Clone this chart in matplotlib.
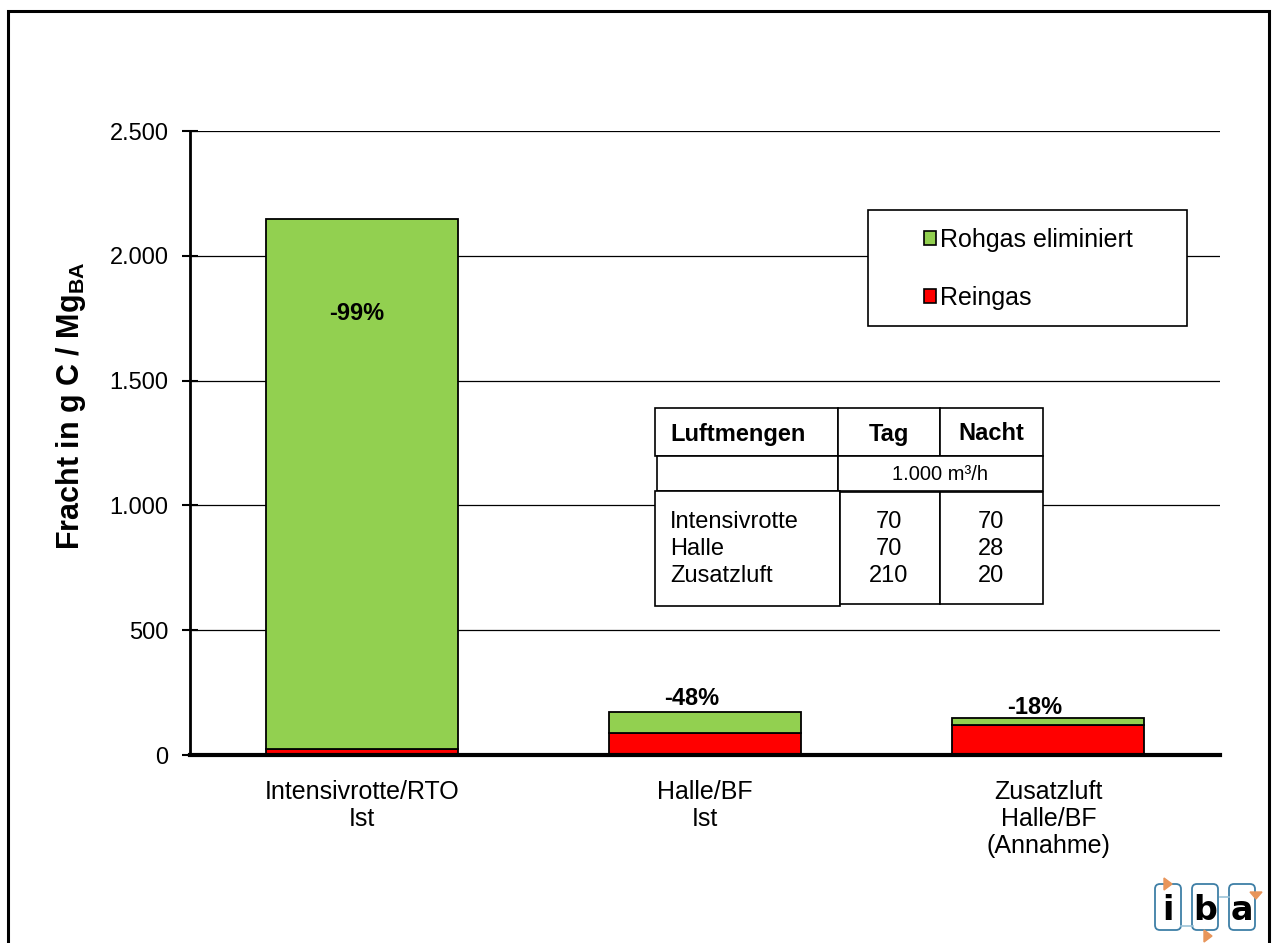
import matplotlib
matplotlib.use("Agg")
import matplotlib.pyplot as plt
from matplotlib.patches import Patch, Rectangle, FancyBboxPatch, Polygon
from matplotlib.ticker import FuncFormatter

plt.rcParams['font.family'] = ['Liberation Sans', 'DejaVu Sans']
plt.rcParams['mathtext.fontset'] = 'custom'
plt.rcParams['mathtext.rm'] = 'Liberation Sans'
plt.rcParams['mathtext.bf'] = 'Liberation Sans:bold'

# ---------------- data ----------------
categories = ["Intensivrotte/RTO\nIst", "Halle/BF\nIst", "Zusatzluft\nHalle/BF\n(Annahme)"]
reingas = [25, 89, 122]
rohgas_total = [2148, 172, 148]
rohgas_eliminiert = [t - r for t, r in zip(rohgas_total, reingas)]
pct_labels = ["-99%", "-48%", "-18%"]
pct_label_y = [1770, 225, 190]
yticks = [0, 500, 1000, 1500, 2000, 2500]

table_header = ["Luftmengen", "Tag", "Nacht"]
table_unit = "1.000 m³/h"
table_rows = ["Intensivrotte", "Halle", "Zusatzluft"]
table_tag = [70, 70, 210]
table_nacht = [70, 28, 20]

GREEN = "#92D050"
RED = "#FF0000"

W, H = 1272, 943
fig = plt.figure(figsize=(W / 100, H / 100), dpi=100)
ax = fig.add_axes([190 / W, 1 - 755 / H, (1220 - 190) / W, (755 - 131) / H])

x = list(range(len(categories)))
bw = 0.56
ax.bar(x, reingas, width=bw, color=RED, edgecolor="black", linewidth=1.3, zorder=3, label="Reingas")
ax.bar(x, rohgas_eliminiert, bottom=reingas, width=bw, color=GREEN, edgecolor="black",
       linewidth=1.3, zorder=3, label="Rohgas eliminiert")

label_dx = [-0.015, -0.04, -0.04]
for xi, lab, yy, dx in zip(x, pct_labels, pct_label_y, label_dx):
    ax.text(xi + dx, yy, lab, ha="center", va="center", fontsize=17,
            fontweight="bold", zorder=5)

ax.set_xlim(-0.5, 2.5)
ax.set_ylim(0, 2500)
ax.set_yticks(yticks)
ax.yaxis.set_major_formatter(FuncFormatter(lambda v, p: f"{int(v):,}".replace(",", ".")))
ax.set_xticks(x)
ax.set_xticklabels(categories, fontsize=18, linespacing=1.15)
ax.tick_params(axis="x", length=0, pad=18)
ax.tick_params(axis="y", direction="inout", length=11, width=1.5, labelsize=17, pad=10)
ax.grid(axis="y", color="black", linewidth=0.9, zorder=0)
ax.set_axisbelow(True)
for s in ["top", "right"]:
    ax.spines[s].set_visible(False)
ax.spines["left"].set_linewidth(2)
ax.spines["bottom"].set_linewidth(3)
ax.spines["left"].set_zorder(4)
ax.spines["bottom"].set_zorder(4)
ax.set_ylabel(r"Fracht in g C / Mg$_\mathbf{BA}$", fontsize=22, fontweight="bold")
ax.yaxis.set_label_coords(-0.0995, 0.56)

# ---------------- overlay (pixel coordinates) ----------------
ov = fig.add_axes([0, 0, 1, 1], zorder=10)
ov.set_xlim(0, W)
ov.set_ylim(H, 0)
ov.axis("off")

# outer frame
ov.plot([8, 8, 1269, 1269], [H + 5, 11, 11, H + 5], color="black", linewidth=2.2,
        solid_joinstyle="miter")

# legend box
ov.add_patch(Rectangle((868, 210), 319, 116, facecolor="white", edgecolor="black", linewidth=1.2))
handles = [Patch(facecolor=GREEN, edgecolor="black", linewidth=1.2, label="Rohgas eliminiert"),
           Patch(facecolor=RED, edgecolor="black", linewidth=1.2, label="Reingas")]
leg = ov.legend(handles=handles, loc="upper left", bbox_to_anchor=(924 / W, 1 - 228 / H),
                bbox_transform=fig.transFigure, frameon=False, fontsize=18,
                handlelength=0.5, handleheight=0.5, handletextpad=0.15, labelspacing=1.35,
                borderpad=0, borderaxespad=0)

# table
def cell(x0, y0, x1, y1):
    ov.add_patch(Rectangle((x0, y0), x1 - x0, y1 - y0, facecolor="white", edgecolor="black",
                           linewidth=1.2))

cell(655, 408, 838, 456)
cell(838, 408, 940, 456)
cell(940, 408, 1043, 456)
cell(657, 456, 838, 491)
cell(838, 456, 1043, 491)
cell(655, 491, 840, 606)
cell(840, 492, 940, 604)
cell(940, 492, 1043, 604)

ov.text(670, 434, table_header[0], ha="left", va="center", fontsize=17, fontweight="bold")
ov.text(889, 434, table_header[1], ha="center", va="center", fontsize=17, fontweight="bold")
ov.text(991, 434, table_header[2], ha="center", va="center", fontsize=17, fontweight="bold")
ov.text(940, 474, table_unit, ha="center", va="center", fontsize=14.5)
for i, (name, t, n) in enumerate(zip(table_rows, table_tag, table_nacht)):
    yy = 522 + 27 * i
    ov.text(670, yy, name, ha="left", va="center", fontsize=17)
    ov.text(889, yy, str(t), ha="center", va="center", fontsize=17)
    ov.text(991, yy, str(n), ha="center", va="center", fontsize=17)

# iba logo
LB = "#3E7FA6"
OR = "#E8955A"
ov.plot([1181, 1193], [926, 926], color="#9CC3D8", linewidth=1.2)
ov.plot([1220, 1229], [897, 897], color="#9CC3D8", linewidth=1.2)
for x0, letter in [(1155, "i"), (1192, "b"), (1229, "a")]:
    ov.add_patch(FancyBboxPatch((x0, 884), 26, 46, boxstyle="round,pad=0,rounding_size=5",
                                facecolor="white", edgecolor=LB, linewidth=1.3))
    ov.text(x0 + 13, 911, letter, ha="center", va="center", fontsize=24, fontweight="bold",
            family=["DejaVu Sans"])
ov.add_patch(Polygon([[1164, 878], [1164, 890], [1172, 884]], closed=True, color=OR))
ov.add_patch(Polygon([[1204, 930], [1204, 942], [1212, 936]], closed=True, color=OR))
ov.add_patch(Polygon([[1250, 892], [1262, 892], [1256, 899]], closed=True, color=OR))

fig.savefig("out.png", dpi=100)
